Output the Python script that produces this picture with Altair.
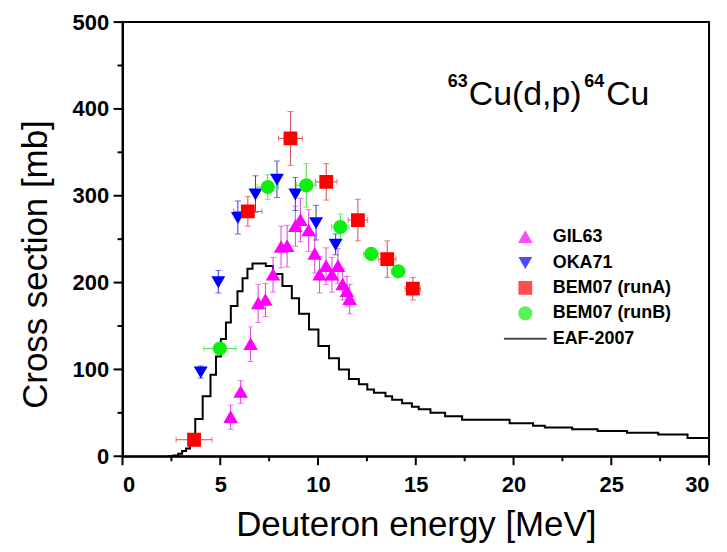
import altair as alt
import pandas as pd

# ---------------- data ----------------
series_names = ["GIL63", "OKA71", "BEM07 (runA)", "BEM07 (runB)", "EAF-2007"]
series_colors = ["#ff00ff", "#0000ff", "#ff0000", "#11ee11", "#000000"]
series_shapes = ["triangle-up", "triangle-down", "square", "circle", "stroke"]
series_sizes = [125, 110, 140, 150, 1849]
error_colors = ["#e040e0", "#2a3ad8", "#d84a4a", "#44dd44"]

gil_E = [5.53, 6.04, 6.55, 6.94, 7.31, 7.70, 8.11, 8.42, 8.84, 9.10, 9.52, 9.83,
         10.08, 10.41, 10.71, 11.02, 11.26, 11.48, 11.62]
gil_xs = [45, 74, 129, 176, 180, 209, 241, 242, 265, 272, 260, 233,
          209, 219, 209, 219, 198, 190, 181]
gil_dy = [14, 13, 20, 22, 19, 20, 24, 24, 23, 25, 24, 22, 21, 21, 20, 20, 18, 17, 17]

oka_E = [4.0, 4.9, 5.9, 6.8, 7.9, 8.84, 9.9, 10.9]
oka_xs = [97, 201, 275, 302, 319, 302, 269, 244]
oka_dy = [7, 13, 19, 21, 21, 19, 20, 12]

runA_E = [3.66, 6.41, 8.59, 10.42, 12.04, 13.54, 14.85]
runA_xs = [19, 282, 366, 316, 272, 227, 193]
runA_dy = [3, 17, 31, 21, 24, 21, 13]
runA_dE = [0.92, 0.72, 0.61, 0.55, 0.50, 0.45, 0.40]

runB_E = [4.98, 7.43, 9.40, 11.14, 12.72, 14.10]
runB_xs = [124, 310, 312, 264, 233, 213]
runB_dy = [4, 14, 25, 15, 6, 4]
runB_dE = [0.82, 0.55, 0.50, 0.45, 0.40, 0.35]

eaf_E = [2.3, 2.6, 2.85, 3.05, 3.25, 3.45, 3.6, 3.72, 4.1, 4.5, 4.78, 5.03, 5.29,
         5.54, 5.88, 6.14, 6.39, 6.65, 7.33, 7.70, 8.18, 8.66, 9.03, 9.54, 10.02,
         10.56, 11.07, 11.58, 12.09, 12.52, 12.86, 13.45, 13.79, 14.3, 14.8, 15.15,
         15.75, 16.5, 17.37, 19.8, 21.0, 21.6, 23.0, 24.3, 25.8, 27.4, 28.9, 30.0]
eaf_xs = [0, 1, 3, 6, 9, 13, 16, 43, 69, 94, 115, 135, 154,
          173, 190, 205, 216, 222, 219, 210, 196, 182, 164, 146, 127,
          113, 100, 89, 83, 77, 73, 69, 65, 61, 57, 54,
          50, 46, 42, 38, 35, 33, 31, 29, 27, 25, 21, 21]

title_parts = ["63", "Cu(d,p)", "64", "Cu"]
title_E = [16.64]
title_xs = [404]

x_major = [0, 5, 10, 15, 20, 25, 30]
x_minor = [2.5, 7.5, 12.5, 17.5, 22.5, 27.5]
y_major = [0, 100, 200, 300, 400, 500]
y_minor = [50, 150, 250, 350, 450]

# ---------------- tables ----------------
rows = []
groups = [
    ("GIL63", gil_E, gil_xs, gil_dy, [0] * len(gil_E), error_colors[0]),
    ("OKA71", oka_E, oka_xs, oka_dy, [0] * len(oka_E), error_colors[1]),
    ("BEM07 (runA)", runA_E, runA_xs, runA_dy, runA_dE, error_colors[2]),
    ("BEM07 (runB)", runB_E, runB_xs, runB_dy, runB_dE, error_colors[3]),
]
for name, Es, xs, dys, dEs, ec in groups:
    for e, s, dy, de in zip(Es, xs, dys, dEs):
        rows.append(dict(series=name, E=e, xs=s, lo=s - dy, hi=s + dy,
                         elo=e - de, ehi=e + de, dE=de, ecol=ec))
pts = pd.DataFrame(rows)

vcaps = pd.concat([pts.assign(cap=pts["lo"]), pts.assign(cap=pts["hi"])])
hpts = pts[pts["dE"] > 0]
hcaps = pd.concat([hpts.assign(capx=hpts["elo"]), hpts.assign(capx=hpts["ehi"])])
eaf = pd.DataFrame({"E": eaf_E, "xs": eaf_xs})
anchor = pd.DataFrame({"E": title_E, "xs": title_xs})
xt_major = pd.DataFrame({"E": x_major})
xt_minor = pd.DataFrame({"E": x_minor})
yt_major = pd.DataFrame({"xs": y_major})
yt_minor = pd.DataFrame({"xs": y_minor})

# ---------------- scales / axes ----------------
FONT = "Liberation Sans"
W, H = 589, 436
xs_ = alt.Scale(domain=[0, 30], nice=False, zero=False)
ys_ = alt.Scale(domain=[0, 500], nice=False)

# axes carry labels and titles; their own ticks are kept invisible (spacing only)
x_axis = alt.Axis(
    values=x_major, orient="bottom", grid=False,
    ticks=True, tickSize=10, tickOpacity=0,
    title="Deuteron energy [MeV]", titleY=80, titleBaseline="alphabetic",
    titleFontSize=35, labelPadding=8,
)
y_axis = alt.Axis(
    values=y_major, orient="left", grid=False,
    ticks=True, tickSize=10, tickOpacity=0,
    title="Cross section [mb]", titleX=-76, titleY=243, titleAngle=-90,
    titleAlign="center", titleBaseline="alphabetic", titleFontSize=35,
    labelPadding=4,
)

X = alt.X("E:Q", scale=xs_, axis=x_axis)
Y = alt.Y("xs:Q", scale=ys_, axis=y_axis)
XP = alt.X("E:Q", scale=xs_)
YP = alt.Y("xs:Q", scale=ys_)

legend = alt.Legend(
    title=None, orient="none", legendX=382, legendY=208,
    labelFont=FONT, labelFontSize=18, labelFontWeight="bold", labelColor="black",
    labelOffset=5, rowPadding=7.5, clipHeight=16, padding=0, symbolStrokeWidth=2,
)
dom = series_names

line = alt.Chart(eaf).mark_line(interpolate="step-after", color="black",
                                strokeWidth=2, clip=True).encode(x=X, y=Y)

vbars = alt.Chart(pts).mark_rule(strokeWidth=1).encode(
    x=X, y=alt.Y("lo:Q", scale=ys_), y2="hi:Q",
    color=alt.Color("ecol:N", scale=None))
vcap = alt.Chart(vcaps).mark_tick(orient="horizontal", size=6, thickness=1).encode(
    x=X, y=alt.Y("cap:Q", scale=ys_), color=alt.Color("ecol:N", scale=None))
hbars = alt.Chart(hpts).mark_rule(strokeWidth=1).encode(
    x=alt.X("elo:Q", scale=xs_), x2="ehi:Q", y=Y,
    color=alt.Color("ecol:N", scale=None))
hcap = alt.Chart(hcaps).mark_tick(orient="vertical", size=6, thickness=1).encode(
    x=alt.X("capx:Q", scale=xs_), y=Y, color=alt.Color("ecol:N", scale=None))

points = alt.Chart(pts).mark_point(filled=True, opacity=1).encode(
    x=X, y=Y,
    color=alt.Color("series:N", scale=alt.Scale(domain=dom, range=series_colors), legend=legend),
    stroke=alt.Stroke("series:N", scale=alt.Scale(domain=dom, range=series_colors), legend=legend),
    shape=alt.Shape("series:N", scale=alt.Scale(domain=dom, range=series_shapes), legend=legend),
    size=alt.Size("series:N", scale=alt.Scale(type="ordinal", domain=dom, range=series_sizes), legend=legend),
)

# outward tick marks, positioned through the same scales
tick_style = dict(color="black", strokeWidth=2, clip=False)
xt1 = alt.Chart(xt_major).mark_rule(**tick_style).encode(
    x=XP, y=alt.value(H), y2=alt.value(H + 9))
xt2 = alt.Chart(xt_minor).mark_rule(**tick_style).encode(
    x=XP, y=alt.value(H), y2=alt.value(H + 5))
yt1 = alt.Chart(yt_major).mark_rule(**tick_style).encode(
    y=YP, x=alt.value(0), x2=alt.value(-9))
yt2 = alt.Chart(yt_minor).mark_rule(**tick_style).encode(
    y=YP, x=alt.value(0), x2=alt.value(-5))

sup63 = alt.Chart(anchor).mark_text(text=title_parts[0], font=FONT, fontSize=18, fontWeight="bold",
                                    align="left", baseline="alphabetic", dx=0, dy=-19,
                                    color="black").encode(x=XP, y=YP)
main1 = alt.Chart(anchor).mark_text(text=title_parts[1], font=FONT, fontSize=34,
                                    align="left", baseline="alphabetic", dx=21,
                                    color="black").encode(x=XP, y=YP)
sup64 = alt.Chart(anchor).mark_text(text=title_parts[2], font=FONT, fontSize=18, fontWeight="bold",
                                    align="left", baseline="alphabetic", dx=137, dy=-19,
                                    color="black").encode(x=XP, y=YP)
main2 = alt.Chart(anchor).mark_text(text=title_parts[3], font=FONT, fontSize=34,
                                    align="left", baseline="alphabetic", dx=159,
                                    color="black").encode(x=XP, y=YP)

chart = alt.layer(
    line, vbars, vcap, hbars, hcap, points, xt1, xt2, yt1, yt2,
    sup63, main1, sup64, main2,
).properties(
    width=W, height=H,
    padding={"left": 115, "top": 13, "right": 10, "bottom": 95},
    autosize=alt.AutoSizeParams(type="none"),
).configure_view(stroke="black", strokeWidth=2).configure_axis(
    domainColor="black", domainWidth=2,
    labelFont=FONT, labelFontSize=22, labelFontWeight="bold", labelColor="black",
    titleFont=FONT, titleFontWeight="normal", titleColor="black",
)

chart.save("out.html", embed_options={"renderer": "svg", "actions": False})
